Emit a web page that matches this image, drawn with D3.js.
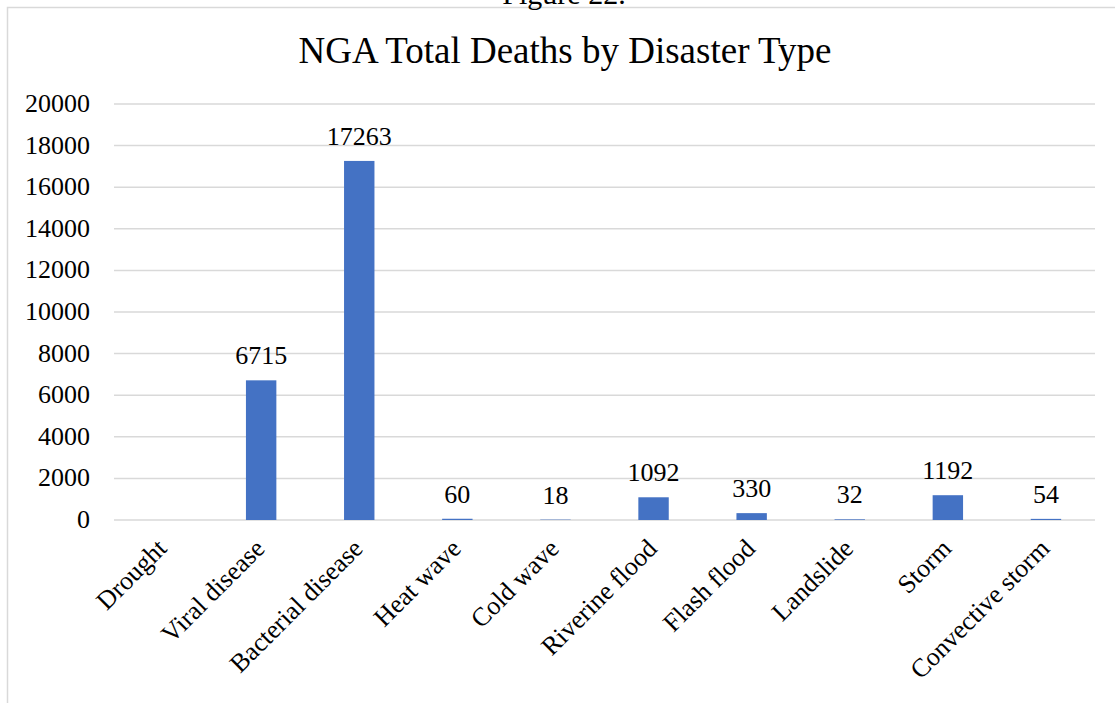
<!doctype html>
<html>
  <head>
    <meta charset="utf-8">
    <title>NGA Total Deaths by Disaster Type</title>
    <script src="https://cdnjs.cloudflare.com/ajax/libs/d3/7.8.5/d3.min.js"></script>
    <style>
      body { margin: 0; background: #fff; }
      text { font-family: "Liberation Serif", "Times New Roman", serif; fill: #000; }
    </style>
  </head>
  <body>
    <div id="chart"></div>
    <script>
      // data
      const categories = ['Drought', 'Viral disease', 'Bacterial disease', 'Heat wave', 'Cold wave',
        'Riverine flood', 'Flash flood', 'Landslide', 'Storm', 'Convective storm'];
      const deaths = [null, 6715, 17263, 60, 18, 1092, 330, 32, 1192, 54];
      const yTicks = [0, 2000, 4000, 6000, 8000, 10000, 12000, 14000, 16000, 18000, 20000];

      const width = 1115, height = 703;
      const svg = d3.select('#chart').append('svg')
        .attr('width', width)
        .attr('height', height);

      // chart frame (only top and left are inside the picture)
      svg.append('rect')
        .attr('x', 7.5).attr('y', 7.5)
        .attr('width', 1200).attr('height', 800)
        .attr('fill', 'none')
        .attr('stroke', '#d9d9d9')
        .attr('stroke-width', 1.5);

      // caption above the frame, cut off like in the original
      svg.append('text')
        .attr('x', 564).attr('y', 4)
        .attr('text-anchor', 'middle')
        .style('font-size', '30px')
        .text('Figure 22.');

      svg.append('text')
        .attr('x', 565).attr('y', 63)
        .attr('text-anchor', 'middle')
        .style('font-size', '37px')
        .text('NGA Total Deaths by Disaster Type');

      const x = d3.scaleBand()
        .domain(categories)
        .range([114, 1095])
        .paddingInner(0.69)
        .paddingOuter(0.345);

      const y = d3.scaleLinear()
        .domain([0, 20000])
        .range([520, 104]);

      // gridlines
      svg.append('g')
        .selectAll('line')
        .data(yTicks)
        .join('line')
        .attr('x1', 114).attr('x2', 1095)
        .attr('y1', d => y(d)).attr('y2', d => y(d))
        .attr('stroke', '#d9d9d9')
        .attr('stroke-width', 1.5);

      // y tick labels
      svg.append('g')
        .selectAll('text')
        .data(yTicks)
        .join('text')
        .attr('x', 90)
        .attr('y', d => y(d) + 8)
        .attr('text-anchor', 'end')
        .style('font-size', '26px')
        .text(d => d);

      const data = categories.map((c, i) => ({ cat: c, val: deaths[i] }));

      svg.append('g')
        .selectAll('rect')
        .data(data.filter(d => d.val != null))
        .join('rect')
        .attr('x', d => x(d.cat))
        .attr('width', x.bandwidth())
        .attr('y', d => y(d.val))
        .attr('height', d => y(0) - y(d.val))
        .attr('fill', '#4472c4');

      // value labels
      svg.append('g')
        .selectAll('text')
        .data(data.filter(d => d.val != null))
        .join('text')
        .attr('x', d => x(d.cat) + x.bandwidth() / 2)
        .attr('y', d => y(d.val) - 16)
        .attr('text-anchor', 'middle')
        .style('font-size', '26px')
        .text(d => d.val);

      // category labels, rotated
      svg.append('g')
        .selectAll('text')
        .data(categories)
        .join('text')
        .attr('transform', d => `translate(${x(d) + x.bandwidth() / 2 + 5},${550}) rotate(-45)`)
        .attr('text-anchor', 'end')
        .style('font-size', '26px')
        .text(d => d);
    </script>
  </body>
</html>
